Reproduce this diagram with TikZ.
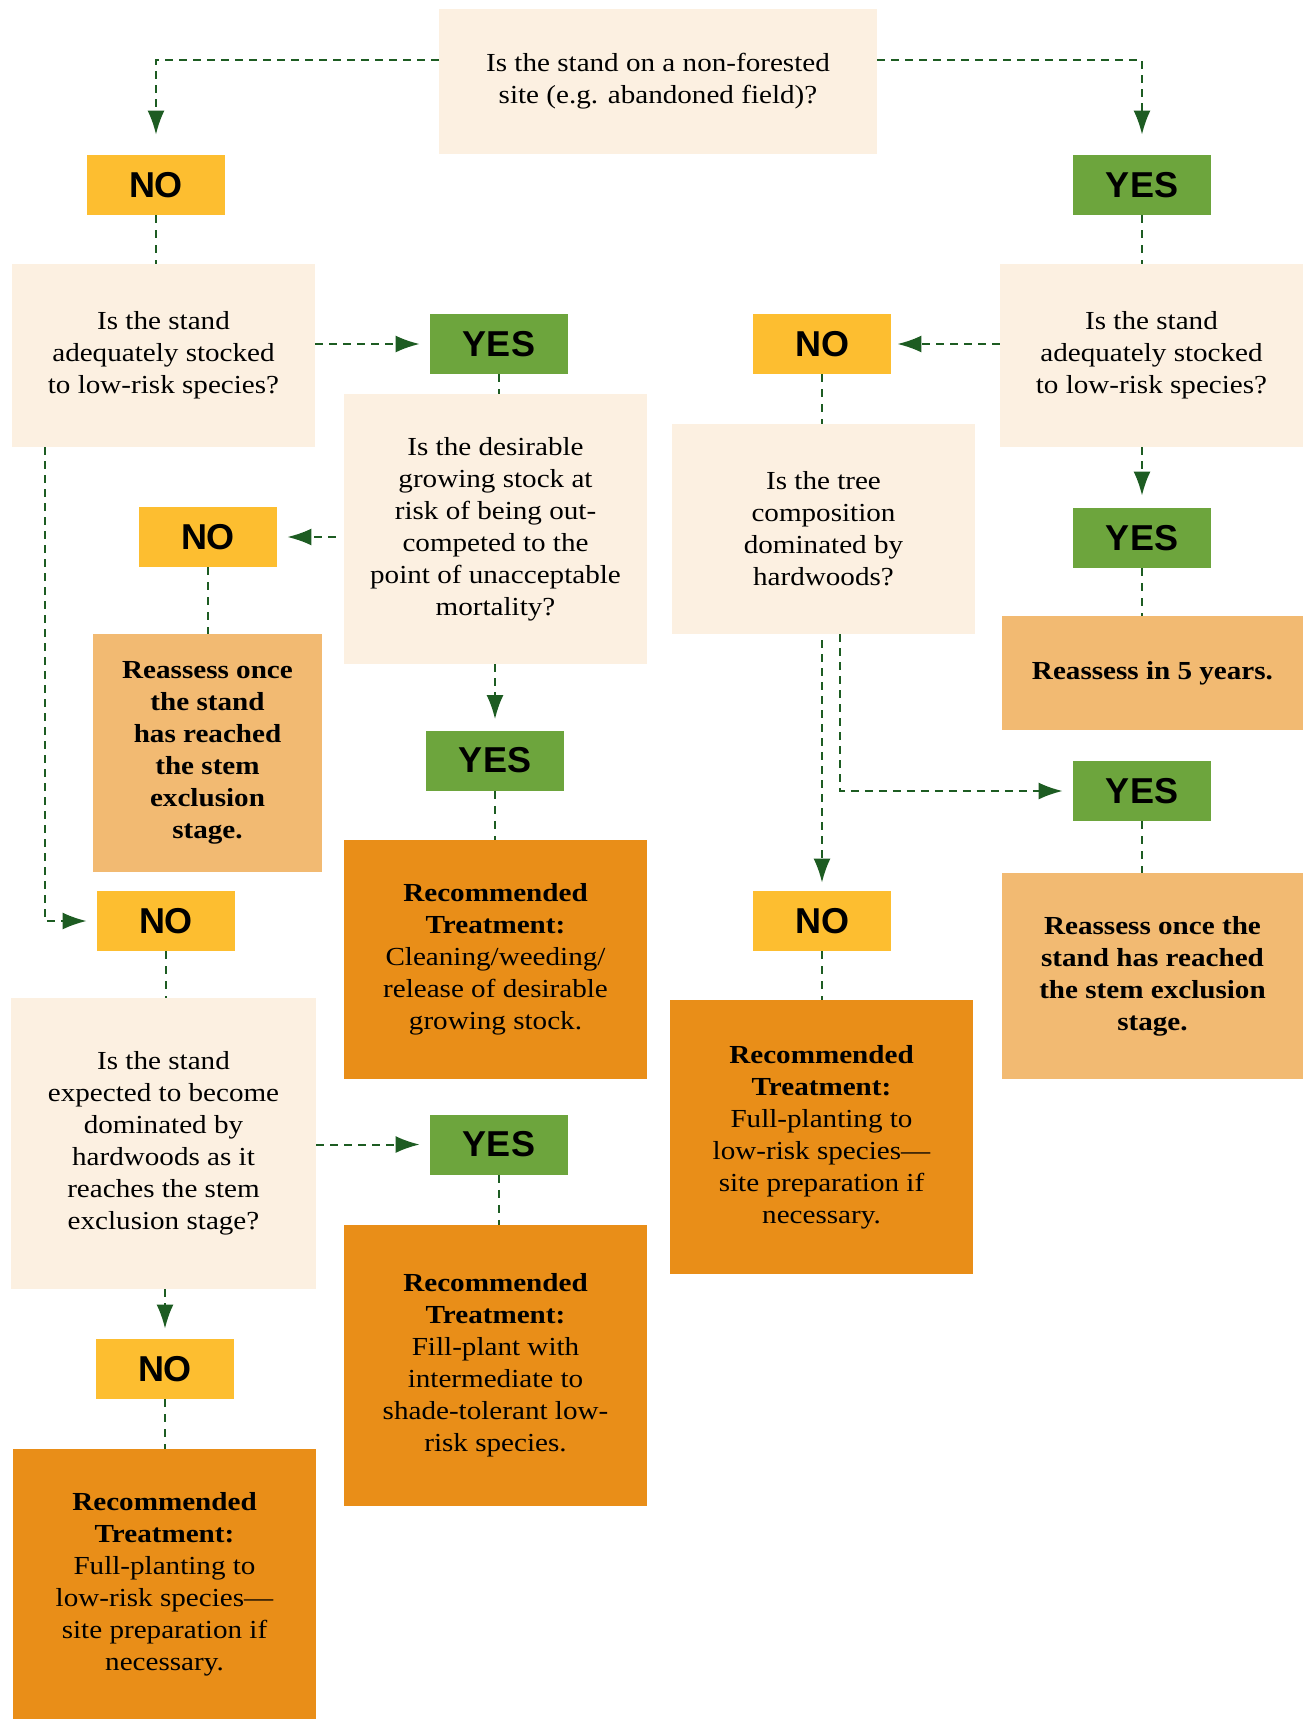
\documentclass[tikz,border=0pt]{standalone}
\usepackage{fontspec}
\setmainfont{Liberation Serif}[FakeStretch=1.12]
\newfontfamily\answerfont{Liberation Sans}
\usetikzlibrary{arrows.meta}
\definecolor{cream}{HTML}{FCF0E1}
\definecolor{yesgreen}{HTML}{6DA53D}
\definecolor{noyellow}{HTML}{FDBE30}
\definecolor{lightorange}{HTML}{F2BA72}
\definecolor{darkorange}{HTML}{E98E18}
\definecolor{arrowgreen}{HTML}{1D5C22}
\tikzset{
	box/.style={inner sep=0pt, align=center, text=black, font=\fontsize{13}{16}\selectfont},
	question/.style={box, fill=cream},
	reassess/.style={box, fill=lightorange, font=\fontsize{13}{16}\selectfont\bfseries},
	treatment/.style={box, fill=darkorange},
	answer/.style={inner sep=0pt, minimum width=69pt, minimum height=30pt, font=\answerfont\fontsize{18}{18}\selectfont\bfseries},
	yesbox/.style={answer, fill=yesgreen},
	nobox/.style={answer, fill=noyellow},
	flow/.style={draw=arrowgreen, line width=1pt, dash pattern=on 4pt off 3pt, -{Latex[length=12pt,width=8.5pt]}},
	link/.style={draw=arrowgreen, line width=1pt, dash pattern=on 4pt off 3.5pt}
}

\begin{document}
\begin{tikzpicture}[x=1pt,y=-1pt]
	\useasboundingbox (0,0) rectangle (652,859.5);
	% questions
	\node[question, minimum width=219pt, minimum height=72.5pt] (qtop) at (329,40.75) {Is the stand on a non-forested\\site (e.g. abandoned field)?};
	\node[question, minimum width=151.5pt, minimum height=91.5pt] (qleft) at (81.75,177.75) {Is the stand\\adequately stocked\\to low-risk species?};
	\node[question, minimum width=151.5pt, minimum height=91.5pt] (qright) at (575.75,177.75) {Is the stand\\adequately stocked\\to low-risk species?};
	\node[question, minimum width=151.5pt, minimum height=135pt] (qgrow) at (247.75,264.5) {Is the desirable\\growing stock at\\risk of being out-\\competed to the\\point of unacceptable\\mortality?};
	\node[question, minimum width=151.5pt, minimum height=105pt] (qtree) at (411.75,264.5) {Is the tree\\composition\\dominated by\\hardwoods?};
	\node[question, minimum width=152.5pt, minimum height=145.5pt] (qexp) at (81.75,571.75) {Is the stand\\expected to become\\dominated by\\hardwoods as it\\reaches the stem\\exclusion stage?};
	% answers
	\node[nobox] (noA) at (78,92.5) {NO};
	\node[yesbox] (yesA) at (571,92.5) {YES};
	\node[yesbox] (yesB) at (249.5,172) {YES};
	\node[nobox] (noE) at (411,172) {NO};
	\node[nobox] (noB) at (104,268.5) {NO};
	\node[yesbox] (yesE) at (571,269) {YES};
	\node[yesbox] (yesC) at (247.5,380.25) {YES};
	\node[yesbox] (yesF) at (571,395.5) {YES};
	\node[nobox] (noC) at (83,460.5) {NO};
	\node[nobox] (noF) at (411,460.5) {NO};
	\node[yesbox] (yesD) at (249.5,572.25) {YES};
	\node[nobox] (noD) at (82.5,684.5) {NO};
	% outcomes
	\node[reassess, minimum width=114.5pt, minimum height=119pt] (reL) at (103.75,376.5) {Reassess once\\the stand\\has reached\\the stem\\exclusion\\stage.};
	\node[reassess, minimum width=150.5pt, minimum height=57pt] (re5) at (576.25,336.5) {Reassess in 5 years.};
	\node[reassess, minimum width=150.5pt, minimum height=103pt] (reR) at (576.25,488) {Reassess once the\\stand has reached\\the stem exclusion\\stage.};
	\node[treatment, minimum width=151.5pt, minimum height=119.5pt] (recA) at (247.75,479.75) {\textbf{Recommended}\\\textbf{Treatment:}\\Cleaning/weeding/\\release of desirable\\growing stock.};
	\node[treatment, minimum width=151.5pt, minimum height=140.5pt] (recB) at (247.75,682.75) {\textbf{Recommended}\\\textbf{Treatment:}\\Fill-plant with\\intermediate to\\shade-tolerant low-\\risk species.};
	\node[treatment, minimum width=151.5pt, minimum height=135pt] (recC) at (82.25,792) {\textbf{Recommended}\\\textbf{Treatment:}\\Full-planting to\\low-risk species—\\site preparation if\\necessary.};
	\node[treatment, minimum width=151.5pt, minimum height=137pt] (recD) at (410.75,568.5) {\textbf{Recommended}\\\textbf{Treatment:}\\Full-planting to\\low-risk species—\\site preparation if\\necessary.};
	% arrows
	\draw[flow] (qtop.west |- 0,30) -| ([yshift=10pt]noA.north);
	\draw[flow] (qtop.east |- 0,30) -| ([yshift=10pt]yesA.north);
	\draw[flow] (qleft.east |- yesB) -- ([xshift=-5pt]yesB.west);
	\draw[flow] ([xshift=-4pt]qgrow.west |- noB) -- ([xshift=5pt]noB.east);
	\draw[flow] (yesC.north |- qgrow.south) -- ([yshift=5.5pt]yesC.north);
	\draw[flow] ([xshift=16.5pt]qleft.south west) |- ([xshift=-5pt]noC.west);
	\draw[flow] (qexp.east |- yesD) -- ([xshift=-5pt]yesD.west);
	\draw[flow] (noD.north |- qexp.south) -- ([yshift=5pt]noD.north);
	\draw[flow] (qright.west |- noE) -- ([xshift=3pt]noE.east);
	\draw[flow] (yesE.north |- qright.south) -- ([yshift=6pt]yesE.north);
	\draw[flow] ([yshift=-3pt]noF.north |- qtree.south) -- ([yshift=4pt]noF.north);
	\draw[flow] ([xshift=8pt]qtree.south) |- ([xshift=-5pt]yesF.west);
	% plain links
	\draw[link] (noA.south) -- (noA.south |- qleft.north);
	\draw[link] (yesA.south) -- (yesA.south |- qright.north);
	\draw[link] (yesB.south) -- (yesB.south |- qgrow.north);
	\draw[link] (noE.south) -- (noE.south |- qtree.north);
	\draw[link] (noB.south) -- (noB.south |- reL.north);
	\draw[link] (yesE.south) -- (yesE.south |- re5.north);
	\draw[link] (yesC.south) -- (yesC.south |- recA.north);
	\draw[link] (yesF.south) -- (yesF.south |- reR.north);
	\draw[link] (noC.south) -- (noC.south |- qexp.north);
	\draw[link] (noF.south) -- (noF.south |- recD.north);
	\draw[link] (yesD.south) -- (yesD.south |- recB.north);
	\draw[link] (noD.south) -- (noD.south |- recC.north);
\end{tikzpicture}
\end{document}
